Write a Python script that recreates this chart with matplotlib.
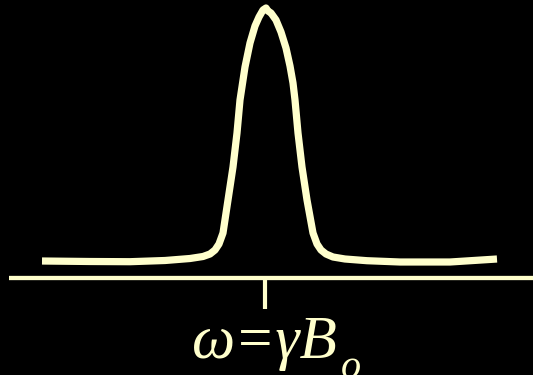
import matplotlib.pyplot as plt

# resonance line: frequency position vs signal height above the axis
freq = [42, 90, 130, 165, 190, 203, 210, 215, 219, 223, 228, 233, 237, 240,
        245, 250, 255, 259, 263, 266, 268, 271, 276, 281, 286, 290, 293, 295,
        298, 302, 307, 313, 317, 321, 326, 333, 345, 367, 400, 450, 497]
signal = [17, 16.5, 16.3, 17.5, 19.5, 21.5, 24, 28, 34, 45, 78, 111, 145, 178,
          211, 235, 252, 261, 268, 270, 267, 265, 258, 246, 230, 212, 195, 178,
          145, 111, 78, 45, 34, 28, 24, 21, 19, 17.3, 16, 16, 19]

omega0 = 265
label = 'ω=γB'
label_sub = 'o'

col = '#FFFFCC'

fig = plt.figure(figsize=(5.33, 3.75), dpi=100, facecolor='black')
ax = fig.add_axes([0, 0, 1, 1])
ax.set_facecolor('black')
ax.set_xlim(0, 533)
ax.set_ylim(-97, 278)
ax.axis('off')

ax.plot(freq, signal, color=col, lw=5.2, solid_capstyle='butt',
        solid_joinstyle='round')

# frequency axis and the tick at resonance
ax.plot([9, 533], [0, 0], color=col, lw=3.1, solid_capstyle='butt')
ax.plot([omega0, omega0], [0, -31], color=col, lw=3, solid_capstyle='butt')

t = ax.text(192, -80, label, color=col, fontsize=44,
            family='Liberation Serif', style='italic', ha='left', va='baseline')

# subscript sits well below the baseline, just right of the B
fig.canvas.draw()
bb = t.get_window_extent()
x_end = ax.transData.inverted().transform((bb.x1, bb.y0))[0]
ax.text(x_end + 3, -100, label_sub, color=col, fontsize=29,
        family='Liberation Serif', style='italic', ha='left', va='baseline')

fig.savefig('out.png', dpi=100, facecolor='black')
